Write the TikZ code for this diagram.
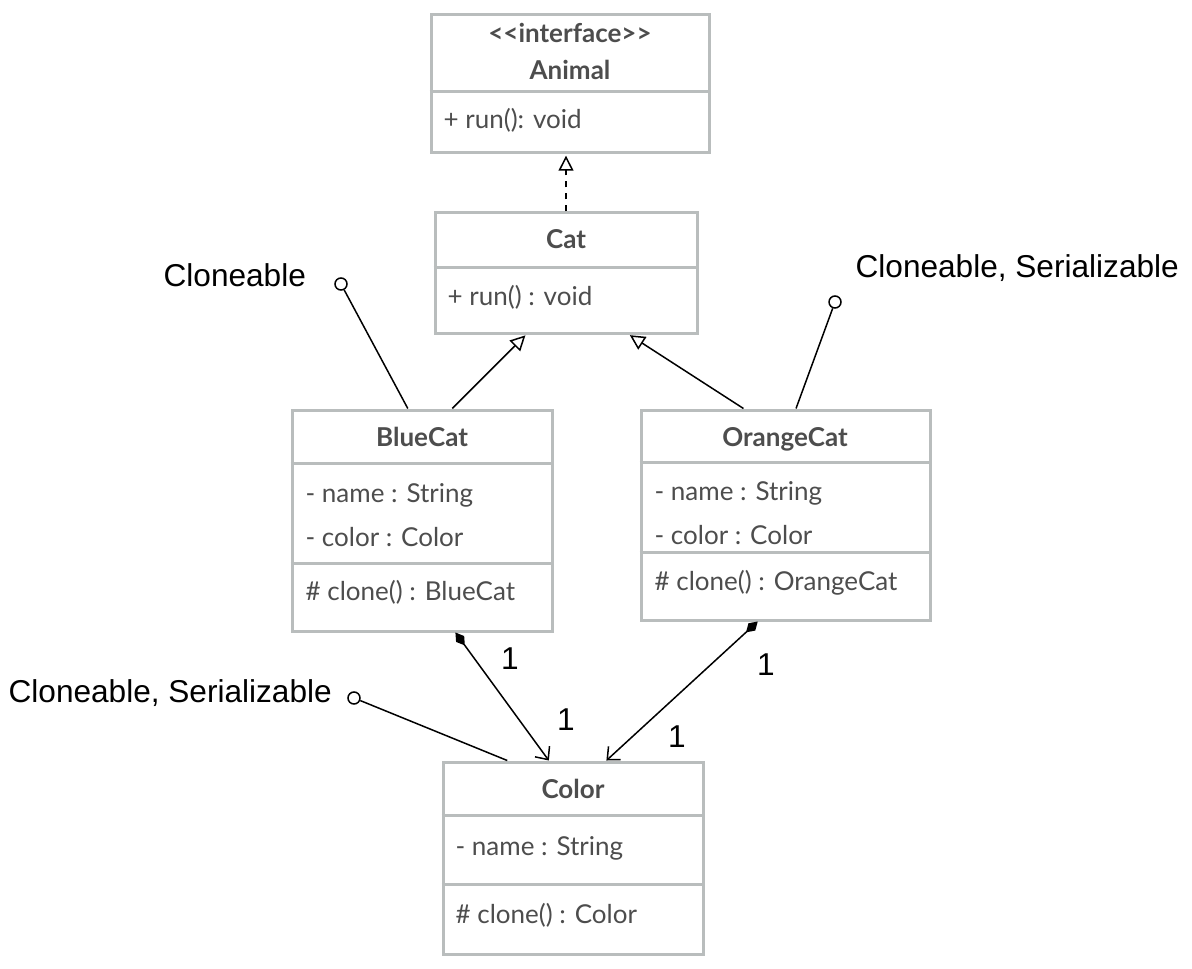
\documentclass[tikz,border=0pt]{standalone}
\usepackage{fontspec}
\setmainfont{Lato}
\newfontfamily\notefont{Liberation Sans}
\usepackage{xcolor}
\usetikzlibrary{arrows.meta}
\usetikzlibrary{calc}
\usetikzlibrary{positioning}
\usetikzlibrary{fit}
\definecolor{boxgrey}{HTML}{B9BDBD}
\definecolor{textgrey}{HTML}{4D4D4D}

\begin{document}
\begin{tikzpicture}[x=0.5pt,y=-0.5pt,semithick]
	\tikzstyle{cls}=[draw=boxgrey, line width=1.5pt, inner sep=0pt, fill=white]
	\tikzstyle{sep}=[draw=boxgrey, line width=1.5pt]
	\tikzstyle{head}=[font=\fontsize{13}{15}\selectfont\bfseries, text=textgrey, inner sep=0pt, anchor=base]
	\tikzstyle{member}=[font=\fontsize{13}{15}\selectfont, text=textgrey, inner sep=0pt, anchor=base west]
	\tikzstyle{note}=[font=\notefont\fontsize{15.8}{18}\selectfont, inner sep=0pt, anchor=base west]
	\tikzstyle{mult}=[font=\notefont\fontsize{15.8}{18}\selectfont, inner sep=0pt]
	\tikzstyle{conn}=[black, line width=0.75pt]
	\tikzstyle{gen}=[conn, -{Triangle[open,length=7.5pt,width=7.5pt]}, shorten >=0.6pt]
	\tikzstyle{real}=[gen, dashed]
	\tikzstyle{comp}=[conn, {Diamond[length=8pt,width=5pt]}-{Straight Barb[length=5pt,width=9pt]}]
	\tikzstyle{ball}=[draw, circle, conn, fill=white, minimum size=6pt, inner sep=0pt]

	\useasboundingbox (0,0) rectangle (1192,968);

	% classes
	\node[cls, fit={(431,15) (709,153)}]  (animal)    {};
	\node[cls, fit={(435,213) (697,333)}] (cat)       {};
	\node[cls, fit={(292,410) (552,631)}] (bluecat)   {};
	\node[cls, fit={(641,410) (930,620)}] (orangecat) {};
	\node[cls, fit={(443,762) (703,954)}] (color)     {};

	\draw[sep] (animal.west |- 0,92) -- (animal.east |- 0,92);
	\draw[sep] (cat.west |- 0,267) -- (cat.east |- 0,267);
	\draw[sep] (bluecat.west |- 0,463) -- (bluecat.east |- 0,463);
	\draw[sep] (bluecat.west |- 0,563) -- (bluecat.east |- 0,563);
	\draw[sep] (orangecat.west |- 0,462) -- (orangecat.east |- 0,462);
	\draw[sep] (orangecat.west |- 0,552) -- (orangecat.east |- 0,552);
	\draw[sep] (color.west |- 0,815) -- (color.east |- 0,815);
	\draw[sep] (color.west |- 0,884) -- (color.east |- 0,884);

	% texts
	\node[head] (animalst) at (570,43) {{<}{<}interface{>}{>}};
	\node[head] (animalt)  at (570,80) {Animal};
	\node[member] (animalrun) at (443,129) {+ run(): void};

	\node[head] (catt) at (566,249) {Cat};
	\node[member] (catrun) at (447,305) {+ run() : void};

	\node[head] (bluecatt) at (422,446) {BlueCat};
	\node[member] (bluename)  at (305,502) {- name : String};
	\node[member] (bluecolor) at (305,546) {- color : Color};
	\node[member] (blueclone) at (305,600) {\# clone() : BlueCat};

	\node[head] (orangecatt) at (785,446) {OrangeCat};
	\node[member] (orangename)  at (654,500) {- name : String};
	\node[member] (orangecolor) at (654,544) {- color : Color};
	\node[member] (orangeclone) at (654,590) {\# clone() : OrangeCat};

	\node[head] (colort) at (573,798) {Color};
	\node[member] (colorname)  at (455,855) {- name : String};
	\node[member] (colorclone) at (455,923) {\# clone() : Color};

	% interfaces
	\node[ball] (blueball)   at (341,284) {};
	\node[ball] (orangeball) at (835,302) {};
	\node[ball] (colorball)  at (354,698) {};
	\node[note] (bluenote)   at (163,286) {Cloneable};
	\node[note] (orangenote) at (855,277) {Cloneable, Serializable};
	\node[note] (colornote)  at (8,702)   {Cloneable, Serializable};

	\draw[conn] ($(bluecat.north west)!0.446!(bluecat.north east)$) -- (blueball);
	\draw[conn] ($(orangecat.north west)!0.536!(orangecat.north east)$) -- (orangeball);
	\draw[conn] ($(color.north west)!0.25!(color.north east)$) -- (colorball);

	% relations
	\draw[real] (cat.north) -- (cat.north |- animal.south);
	\draw[gen] ($(bluecat.north west)!0.615!(bluecat.north east)$) -- ($(cat.south west)!0.35!(cat.south east)$);
	\draw[gen] ($(orangecat.north west)!0.356!(orangecat.north east)$) -- ($(cat.south west)!0.737!(cat.south east)$);
	\draw[comp] ($(bluecat.south west)!0.627!(bluecat.south east)$) -- ($(color.north west)!0.408!(color.north east)$);
	\draw[comp] ($(orangecat.south west)!0.405!(orangecat.south east)$) -- ($(color.north west)!0.627!(color.north east)$);

	\node[mult] (bluem1)   at (510,659) {1};
	\node[mult] (bluem2)   at (566,720) {1};
	\node[mult] (orangem1) at (766,665) {1};
	\node[mult] (orangem2) at (677,737) {1};
\end{tikzpicture}
\end{document}
